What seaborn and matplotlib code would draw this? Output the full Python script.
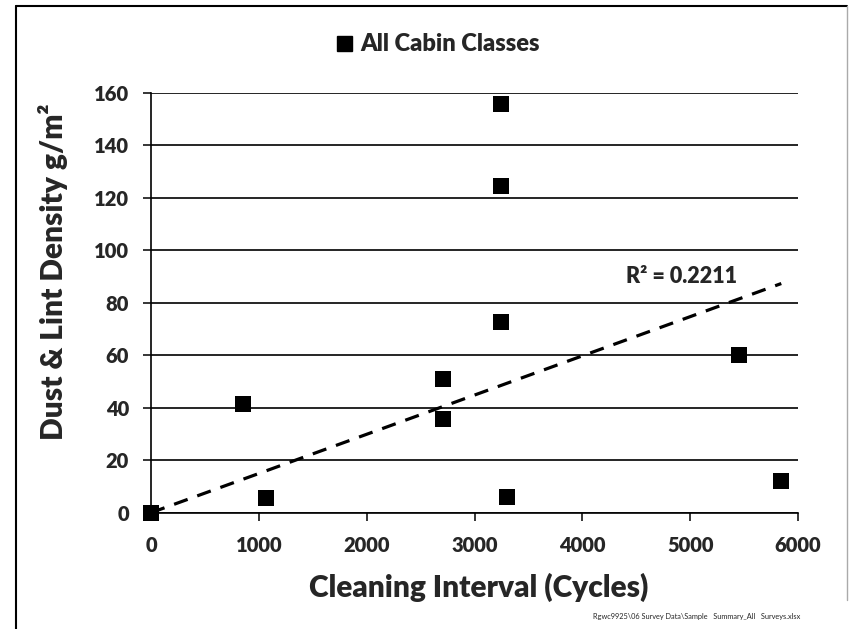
import numpy as np
import pandas as pd
import seaborn as sns
import matplotlib.pyplot as plt
from matplotlib.lines import Line2D

# values
cycles = [0, 850, 1063, 2706, 2706, 3250, 3250, 3250, 3300, 5456, 5845]
density = [0.0, 41.3, 5.5, 50.9, 35.6, 155.6, 124.3, 72.5, 5.9, 60.0, 12.0]
series_name = "All Cabin Classes"
r_squared = "0.2211"
x_ticks = [0, 1000, 2000, 3000, 4000, 5000, 6000]
y_ticks = [0, 20, 40, 60, 80, 100, 120, 140, 160]
source_note = "Rgwc9925\\06 Survey Data\\Sample   Summary_All   Surveys.xlsx"

df = pd.DataFrame({"cycles": cycles, "density": density})

sns.set_style("white")
plt.rcParams["font.family"] = ["Lato", "DejaVu Sans"]
plt.rcParams["font.weight"] = "heavy"

fig = plt.figure(figsize=(8.49, 6.29), dpi=100)
ax = fig.add_axes([151 / 849, 1 - 512.7 / 629, (798 - 151) / 849, (512.7 - 92.7) / 629])

for y in y_ticks:
    ax.axhline(y, color="black", lw=1.2, zorder=1)

sns.scatterplot(data=df, x="cycles", y="density", marker="s", color="black",
                s=133, linewidth=0, label=series_name, ax=ax, zorder=4,
                clip_on=False, legend=False)

# linear trendline forced through the origin (Excel style)
slope = np.sum(df.cycles * df.density) / np.sum(df.cycles ** 2)
xs = np.array([0, df.cycles.max()])
ax.plot(xs, slope * xs, color="black", lw=2.3, ls=(0, (4.5, 3.2)), zorder=3,
        clip_on=False)
ax.text(4916, 89.8, "R² = " + r_squared, fontsize=15.5,
        ha="center", va="center")

ax.set_xlim(0, 6000)
ax.set_ylim(0, 160)
ax.set_xticks(x_ticks)
ax.set_yticks(y_ticks)
ax.tick_params(axis="both", direction="out", length=5.8, width=1.1,
               color="black", labelsize=14.5)
ax.tick_params(axis="x", pad=11, bottom=True)
ax.tick_params(axis="y", pad=10, left=True)

for side in ["top", "right"]:
    ax.spines[side].set_visible(False)
for side in ["left", "bottom"]:
    ax.spines[side].set_color("black")
    ax.spines[side].set_linewidth(1.2)

ax.set_xlabel("")
ax.set_ylabel("")
fig.text(479 / 849, 1 - 587 / 629, "Cleaning Interval (Cycles)", fontsize=21.5,
         ha="center", va="center")
fig.text(53 / 849, 1 - 272 / 629, "Dust & Lint Density g/m²", fontsize=21.5,
         ha="center", va="center", rotation=90)

handle = Line2D([], [], marker="s", color="black", ls="none", markersize=10.8)
fig.legend([handle], [series_name], loc="center",
           bbox_to_anchor=(438 / 849, 1 - 44 / 629), frameon=False,
           prop={"size": 17, "weight": "heavy"}, handlelength=0.7,
           handletextpad=0.35)

fig.text(593 / 849, 1 - 617 / 629, source_note, fontsize=5.3, ha="left",
         va="center", fontweight="normal")

# outer chart-area border
fig.add_artist(Line2D([16 / 849, 16 / 849], [0, 1 - 6 / 629], color="black", lw=1.5))
fig.add_artist(Line2D([16 / 849, 847 / 849], [1 - 6 / 629, 1 - 6 / 629], color="black", lw=1.5))
fig.add_artist(Line2D([847 / 849, 847 / 849], [1 - 6 / 629, 1 - 600 / 629], color="#aaaaaa", lw=1.0))

fig.savefig("out.png", dpi=100)
